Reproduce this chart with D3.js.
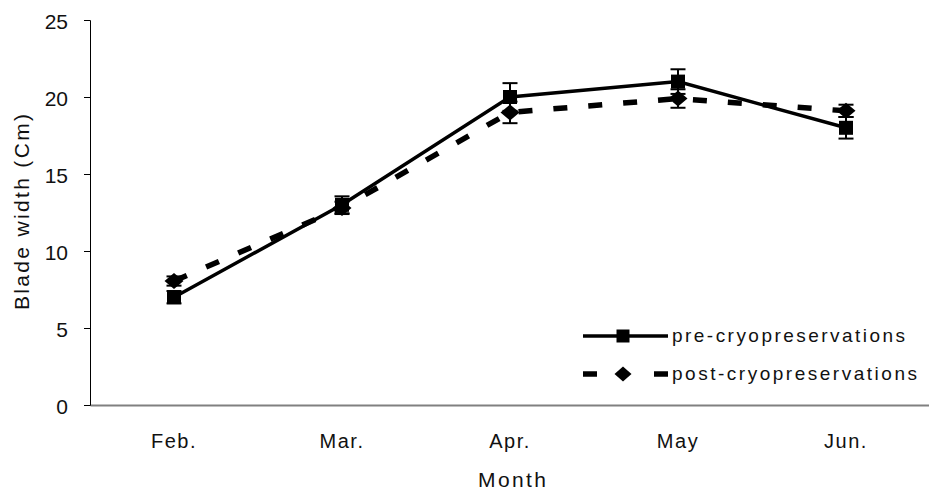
<!DOCTYPE html>
<html>
<head>
<meta charset="utf-8">
<script src="https://cdn.jsdelivr.net/npm/d3@7"></script>
<style>
  body { margin: 0; background: #fff; }
  text { font-family: "Liberation Sans", Arial, sans-serif; fill: #111; }
</style>
</head>
<body>
<svg id="chart" width="929" height="490"></svg>
<script>
// Monthly blade width, before and after cryopreservation
const months = ["Feb.", "Mar.", "Apr.", "May", "Jun."];
const preValues = [7.0, 13.0, 20.0, 21.0, 18.0];
const preErrors = [0.4, 0.55, 0.9, 0.8, 0.7];
const postValues = [8.05, 12.8, 19.0, 19.9, 19.1];
const postErrors = [0.3, 0.4, 0.7, 0.6, 0.4];
const yTicks = [0, 5, 10, 15, 20, 25];

const svg = d3.select("#chart");
const plotLeft = 90, plotRight = 930, plotTop = 20, plotBottom = 405;
const FONT = "'Liberation Sans', Arial, sans-serif";

const x = d3.scaleBand().domain(months).range([plotLeft, plotRight]);
const y = d3.scaleLinear().domain([0, 25]).range([plotBottom, plotTop]);
const cx = m => x(m) + x.bandwidth() / 2;

// X axis (no tick marks, grey baseline)
const xAxis = svg.append("g")
  .attr("transform", `translate(0,${plotBottom})`)
  .call(d3.axisBottom(x).tickSize(0).tickPadding(29));
xAxis.select(".domain").attr("stroke", "#808080").attr("stroke-width", 2);
xAxis.selectAll(".tick text")
  .style("font-size", "20px").style("font-family", FONT)
  .style("letter-spacing", "1.5px");

// Y axis
const yAxis = svg.append("g")
  .attr("transform", `translate(${plotLeft},0)`)
  .call(d3.axisLeft(y).tickValues(yTicks).tickSize(6).tickPadding(16));
yAxis.select(".domain").attr("stroke", "#000").attr("stroke-width", 1);
yAxis.selectAll(".tick line").attr("stroke", "#000");
yAxis.selectAll(".tick text")
  .style("font-size", "21px").style("font-family", FONT)
  .attr("dy", "0.4em");

// Axis titles
svg.append("text")
  .attr("transform", `translate(29,212) rotate(-90)`)
  .attr("text-anchor", "middle")
  .attr("textLength", 196).attr("lengthAdjust", "spacing")
  .style("font-size", "21px")
  .text("Blade width (Cm)");
svg.append("text")
  .attr("x", 512).attr("y", 487)
  .attr("text-anchor", "middle")
  .attr("textLength", 68).attr("lengthAdjust", "spacing")
  .style("font-size", "21px")
  .text("Month");

const line = d3.line().x(d => cx(d.m)).y(d => y(d.v));
const pre = months.map((m, i) => ({ m, v: preValues[i], e: preErrors[i] }));
const post = months.map((m, i) => ({ m, v: postValues[i], e: postErrors[i] }));

// Lines
svg.append("path").datum(post).attr("d", line)
  .attr("fill", "none").attr("stroke", "#000")
  .attr("stroke-width", 5.5).attr("stroke-dasharray", "14,21");
svg.append("path").datum(pre).attr("d", line)
  .attr("fill", "none").attr("stroke", "#000").attr("stroke-width", 3.5);

// Error bars
function errorBars(data) {
  const g = svg.append("g").attr("stroke", "#000").attr("stroke-width", 2);
  data.forEach(d => {
    const xc = cx(d.m);
    g.append("line").attr("x1", xc).attr("x2", xc)
      .attr("y1", y(d.v - d.e)).attr("y2", y(d.v + d.e));
    [d.v - d.e, d.v + d.e].forEach(v => {
      g.append("line").attr("x1", xc - 7.5).attr("x2", xc + 7.5)
        .attr("y1", y(v)).attr("y2", y(v));
    });
  });
}
errorBars(pre);
errorBars(post);

// Markers: square and a slightly wide diamond
const square = s => `M${-s / 2},${-s / 2}h${s}v${s}h${-s}Z`;
const diamond = (w, h) => `M0,${-h / 2}L${w / 2},0L0,${h / 2}L${-w / 2},0Z`;
svg.append("g").selectAll("path").data(post).join("path")
  .attr("d", diamond(19, 16))
  .attr("transform", d => `translate(${cx(d.m)},${y(d.v)})`)
  .attr("fill", "#000");
svg.append("g").selectAll("path").data(pre).join("path")
  .attr("d", square(14))
  .attr("transform", d => `translate(${cx(d.m)},${y(d.v)})`)
  .attr("fill", "#000");

// Legend
const legend = svg.append("g");
const entries = [
  { label: "pre-cryopreservations", y: 336, dashed: false, width: 233 },
  { label: "post-cryopreservations", y: 374, dashed: true, width: 245 }
];
entries.forEach(e => {
  if (e.dashed) {
    legend.append("line").attr("x1", 583).attr("x2", 668).attr("y1", e.y).attr("y2", e.y)
      .attr("stroke", "#000").attr("stroke-width", 5.5).attr("stroke-dasharray", "14,57");
    legend.append("path").attr("d", diamond(17, 15))
      .attr("transform", `translate(623,${e.y})`).attr("fill", "#000");
  } else {
    legend.append("line").attr("x1", 583).attr("x2", 668).attr("y1", e.y).attr("y2", e.y)
      .attr("stroke", "#000").attr("stroke-width", 3.5);
    legend.append("path").attr("d", square(13))
      .attr("transform", `translate(623,${e.y})`).attr("fill", "#000");
  }
  legend.append("text").attr("x", 672).attr("y", e.y + 6)
    .attr("textLength", e.width).attr("lengthAdjust", "spacing")
    .style("font-size", "19px").text(e.label);
});
</script>
</body>
</html>
